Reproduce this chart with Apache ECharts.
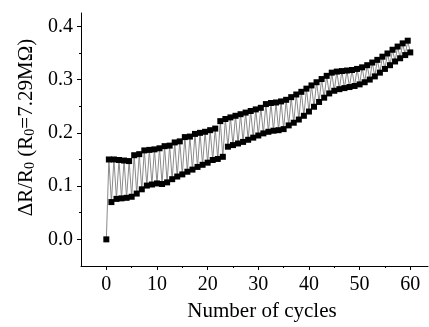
<!DOCTYPE html>
<html>
<head>
<meta charset="utf-8">
<title>cycles</title>
<script src="https://cdn.jsdelivr.net/npm/echarts@6/dist/echarts.min.js"></script>
<style>
  html, body { margin: 0; padding: 0; background: #fff; }
  #main { width: 429px; height: 327px; }
</style>
</head>
<body>
<div id="main"></div>
<script>
// 起始点 (0 cycles)
var startValue = 0
// 每个循环的峰值 (x = k + 0.5)
var peakValues = [
  0.150, 0.150, 0.149, 0.148, 0.147, 0.158, 0.160, 0.167, 0.168, 0.169,
  0.171, 0.175, 0.176, 0.182, 0.184, 0.192, 0.193, 0.198, 0.200, 0.202,
  0.205, 0.208, 0.222, 0.226, 0.229, 0.232, 0.235, 0.238, 0.241, 0.244,
  0.247, 0.254, 0.256, 0.257, 0.259, 0.262, 0.267, 0.272, 0.277, 0.283,
  0.289, 0.295, 0.301, 0.307, 0.313, 0.315, 0.316, 0.317, 0.318, 0.320,
  0.323, 0.327, 0.332, 0.337, 0.343, 0.349, 0.356, 0.362, 0.368, 0.373
]
// 每个循环的谷值 (x = k + 1)
var valleyValues = [
  0.070, 0.076, 0.077, 0.078, 0.080, 0.086, 0.094, 0.101, 0.103, 0.105,
  0.104, 0.107, 0.113, 0.118, 0.122, 0.127, 0.131, 0.136, 0.140, 0.144,
  0.149, 0.151, 0.155, 0.174, 0.177, 0.180, 0.183, 0.187, 0.191, 0.195,
  0.199, 0.202, 0.204, 0.205, 0.207, 0.214, 0.219, 0.225, 0.232, 0.240,
  0.249, 0.258, 0.266, 0.274, 0.279, 0.282, 0.284, 0.286, 0.288, 0.291,
  0.295, 0.300, 0.306, 0.313, 0.320, 0.327, 0.334, 0.340, 0.346, 0.351
]
// 刻度
var xTicks = [0, 10, 20, 30, 40, 50, 60]
var xMinorTicks = [5, 15, 25, 35, 45, 55]
var yTicks = [0, 0.1, 0.2, 0.3, 0.4]
var yMinorTicks = [0.05, 0.15, 0.25, 0.35]

var font = 'Liberation Serif'

// 拼接折线数据
var lineData = [[0, startValue]]
for (var k = 0; k < peakValues.length; k++) {
  lineData.push([k + 0.5, peakValues[k]])
  lineData.push([k + 1, valleyValues[k]])
}

var chart = echarts.init(document.getElementById('main'), null, { renderer: 'canvas' })

var option = {
  animation: false,
  backgroundColor: '#fff',
  grid: { left: 81, right: 1, top: 13, bottom: 53 },
  xAxis: [{
    type: 'value',
    min: -5,
    max: 63.5,
    name: 'Number of cycles',
    nameLocation: 'middle',
    nameGap: 35,
    nameTextStyle: { fontFamily: font, fontSize: 21, color: '#000', padding: [0, 0, 0, 15] },
    axisLine: { show: true, onZero: false, lineStyle: { color: '#000', width: 1 } },
    axisTick: { show: true, length: 4, customValues: xTicks, lineStyle: { color: '#000' } },
    axisLabel: {
      customValues: xTicks, margin: 9,
      fontFamily: font, fontSize: 20, color: '#000'
    },
    splitLine: { show: false }
  }, {
    // 次刻度
    type: 'value',
    min: -5,
    max: 63.5,
    position: 'bottom',
    axisLine: { show: false, onZero: false },
    axisTick: { show: true, length: 2, customValues: xMinorTicks, lineStyle: { color: '#000' } },
    axisLabel: { show: false },
    splitLine: { show: false }
  }],
  yAxis: [{
    type: 'value',
    min: -0.05,
    max: 0.425,
    name: '{a|ΔR/R}{b|0}{a| (R}{b|0}{a|=7.29MΩ)}',
    nameLocation: 'middle',
    nameGap: 44,
    nameTextStyle: {
      fontFamily: font, color: '#000', padding: [0, 0, 0, 24],
      rich: {
        a: { fontFamily: font, fontSize: 21, color: '#000', lineHeight: 24, verticalAlign: 'bottom' },
        b: { fontFamily: font, fontSize: 14, color: '#000', lineHeight: 12, verticalAlign: 'bottom' }
      }
    },
    axisLine: { show: true, onZero: false, lineStyle: { color: '#000', width: 1 } },
    axisTick: { show: true, length: 4, customValues: yTicks, lineStyle: { color: '#000' } },
    axisLabel: {
      customValues: yTicks, margin: 8,
      fontFamily: font, fontSize: 20, color: '#000',
      formatter: function (v) { return v.toFixed(1) }
    },
    splitLine: { show: false }
  }, {
    // 次刻度
    type: 'value',
    min: -0.05,
    max: 0.425,
    position: 'left',
    axisLine: { show: false, onZero: false },
    axisTick: { show: true, length: 2, customValues: yMinorTicks, lineStyle: { color: '#000' } },
    axisLabel: { show: false },
    splitLine: { show: false }
  }],
  series: [{
    type: 'line',
    data: lineData,
    xAxisIndex: 0,
    yAxisIndex: 0,
    symbol: 'rect',
    symbolSize: 6,
    showAllSymbol: true,
    lineStyle: { color: '#8a8a8a', width: 1 },
    itemStyle: { color: '#000' },
    z: 2
  }]
}

chart.setOption(option)
</script>
</body>
</html>
